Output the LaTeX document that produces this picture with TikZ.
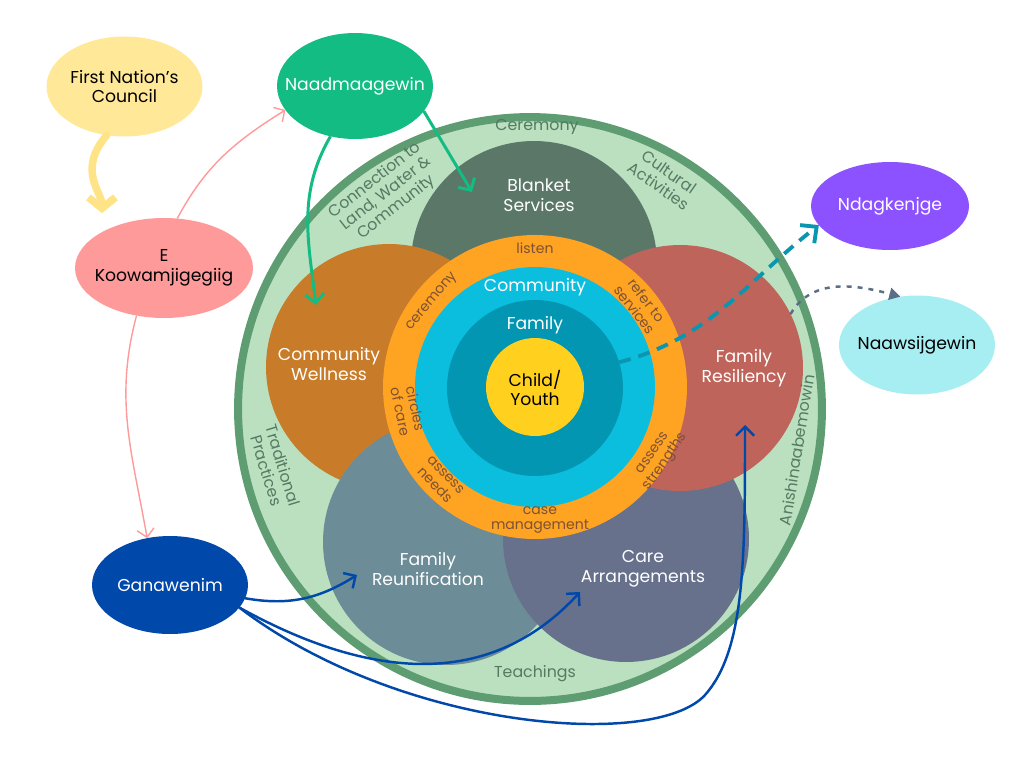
\documentclass[tikz,border=0pt]{standalone}
\usepackage{fontspec}
\setmainfont{Poppins}
\usetikzlibrary{arrows.meta,positioning,shapes.geometric}
\definecolor{ringline}{RGB}{94,156,113}
\definecolor{ringfill}{RGB}{186,224,192}
\definecolor{ringtext}{RGB}{84,122,98}
\definecolor{blanketc}{RGB}{90,119,104}
\definecolor{wellnessc}{RGB}{200,123,41}
\definecolor{resilc}{RGB}{190,100,90}
\definecolor{reunifc}{RGB}{108,140,152}
\definecolor{carec}{RGB}{103,113,140}
\definecolor{orangering}{RGB}{255,163,35}
\definecolor{orangetext}{RGB}{125,82,52}
\definecolor{commc}{RGB}{12,190,222}
\definecolor{famc}{RGB}{2,150,178}
\definecolor{childc}{RGB}{255,208,30}
\definecolor{councilc}{RGB}{255,233,153}
\definecolor{yarrowc}{RGB}{255,228,135}
\definecolor{naadc}{RGB}{18,188,130}
\definecolor{koowc}{RGB}{255,154,154}
\definecolor{ganc}{RGB}{0,72,170}
\definecolor{ndagc}{RGB}{140,82,255}
\definecolor{naawc}{RGB}{166,238,241}
\definecolor{dotc}{RGB}{90,110,135}
\definecolor{dashc}{RGB}{10,150,176}

\begin{document}
\begin{tikzpicture}[
  x=0.02cm, y=-0.02cm,
  disc/.style={circle, inner sep=0pt, outer sep=0pt},
  petal/.style={disc, minimum size=4.92cm},
  bubble/.style={ellipse, inner sep=0pt, outer sep=0pt, minimum width=3.12cm, minimum height=2cm},
  lbl/.style={align=center, font=\fontsize{9.8}{11.3}\selectfont, text=white},
  blbl/.style={lbl, text=black},
  ringlbl/.style={align=center, font=\fontsize{9}{9.8}\selectfont, text=ringtext},
  orlbl/.style={align=center, font=\fontsize{8}{8.8}\selectfont, text=orangetext},
  pinkarrow/.style={-{Straight Barb[length=1.6mm,width=3.4mm]}, line width=0.8pt, koowc},
  greenarrow/.style={-{Straight Barb[length=1.8mm,width=3.8mm]}, line width=1.7pt, naadc},
  bluearrow/.style={-{Straight Barb[length=1.8mm,width=3.6mm]}, line width=1.4pt, ganc},
  dasharrow/.style={-{Straight Barb[length=2.4mm,width=4.6mm]}, line width=2.2pt, dashc, dash pattern=on 0.24cm off 0.16cm},
  dotarrow/.style={-{Triangle[length=2.2mm,width=2.4mm]}, line width=1.4pt, dotc, dash pattern=on 0.1cm off 0.12cm}
]
\useasboundingbox (0,0) rectangle (1024,768);
\node[disc, draw=ringline, line width=0.16cm, fill=ringfill, minimum size=11.68cm] (outer) at (530,409) {};
\node[petal, fill=blanketc] (blanket) at (534,264) {};
\node[petal, fill=wellnessc] (wellness) at (389,367) {};
\node[petal, fill=reunifc] (reunif) at (446,542) {};
\node[petal, fill=carec] (care) at (626,539) {};
\node[petal, fill=resilc] (resil) at (680,368) {};
\node[disc, fill=orangering, minimum size=6.08cm] (orring) at (535,387) {};
\node[disc, fill=commc, minimum size=4.8cm] (comm) at (535,387) {};
\node[disc, fill=famc, minimum size=3.52cm] (fam) at (535,388) {};
\node[disc, fill=childc, minimum size=1.96cm] (child) at (535,387) {};

\node[lbl] (blanketlbl) at (539,195) {Blanket\\Services};
\node[lbl] (wellnesslbl) at (329,364) {Community\\Wellness};
\node[lbl] (resillbl) at (744,368) {Family\\Resiliency};
\node[lbl] (reuniflbl) at (428,569) {Family\\Reunification};
\node[lbl] (carelbl) at (643,569) {Care\\Arrangements};
\node[lbl] (commlbl) at (535,287) {Community};
\node[lbl] (famlbl) at (535,325) {Family};
\node[blbl] (childlbl) at (535,388) {Child/\\Youth};

\node[ringlbl] (ceremonylbl) at (537,127) {Ceremony};
\node[ringlbl, rotate=-35] (culturallbl) at (664,179) {Cultural\\Activities};
\node[ringlbl, rotate=38] (landlbl) at (386,194) {Connection to\\Land, Water \&\\Community};
\node[ringlbl, rotate=-73] (tradlbl) at (275,468) {Traditional\\Practices};
\node[ringlbl, rotate=81] (anishlbl) at (797,450) {Anishinaabemowin};
\node[ringlbl] (teachlbl) at (535,674) {Teachings};

\node[orlbl] (listenlbl) at (535,248) {listen};
\node[orlbl, rotate=50] (cerlbl) at (432,302) {ceremony};
\node[orlbl, rotate=-52] (referlbl) at (641,305) {refer to\\services};
\node[orlbl, rotate=-78] (circleslbl) at (408,410) {circles\\of care};
\node[orlbl, rotate=-46] (needslbl) at (440,480) {assess\\needs};
\node[orlbl, rotate=55] (strengthslbl) at (660,458) {assess\\strengths};
\node[orlbl] (caselbl) at (540,520) {case\\management};

\node[bubble, fill=councilc, label={[blbl]center:First Nation’s\\Council}] (council) at (124.5,86.5) {};
\node[bubble, fill=naadc, minimum height=2.12cm, label={[lbl]center:Naadmaagewin}] (naad) at (355,86) {};
\node[bubble, fill=koowc, minimum width=3.56cm, label={[blbl]center:E\\Koowamjigegiig}] (koow) at (164,268) {};
\node[bubble, fill=ganc, minimum height=1.96cm, label={[lbl]center:Ganawenim}] (gan) at (170,585) {};
\node[bubble, fill=ndagc, minimum width=3.16cm, minimum height=1.76cm, label={[lbl]center:Ndagkenjge}] (ndag) at (890,206) {};
\node[bubble, fill=naawc, minimum height=1.98cm, label={[blbl]center:Naawsijgewin}] (naaw) at (917,345) {};

\coordinate (wellend) at (316,305);
\coordinate (blanketend) at (472,192);
\coordinate (reunifend) at (357,575);
\coordinate (careend) at (580,592);
\coordinate (resilend) at (745,425);
\coordinate (loop) at (705,695);

\draw[line width=0.15cm, yarrowc, line cap=round, shorten >=0.38cm, -{Straight Barb[length=2.2mm,width=5.4mm]}] (council.250) .. controls +(-30,35) and +(0,-40) .. (koow.150);
\draw[pinkarrow] (koow.75) to[out=62, in=212] (naad.199);
\draw[pinkarrow] (koow.240) to[out=255, in=100] (gan.116);
\draw[greenarrow] (naad.244) to[out=240, in=97] (wellend);
\draw[greenarrow] (naad.-20) -- (blanketend);
\draw[dasharrow] (fam.17) to[out=15, in=218] (ndag.195);
\draw[dotarrow] (resil.26) to[out=60, in=165] (naaw.109);
\draw[bluearrow] (gan.-10) to[out=-10, in=212] (reunifend);
\draw[bluearrow] (gan.-18) .. controls (370,680) and (490,690) .. (careend);
\draw[bluearrow] (gan.-18) .. controls (400,730) and (655,750) .. (loop) .. controls (745,650) and (745,560) .. (resilend);
\end{tikzpicture}
\end{document}
